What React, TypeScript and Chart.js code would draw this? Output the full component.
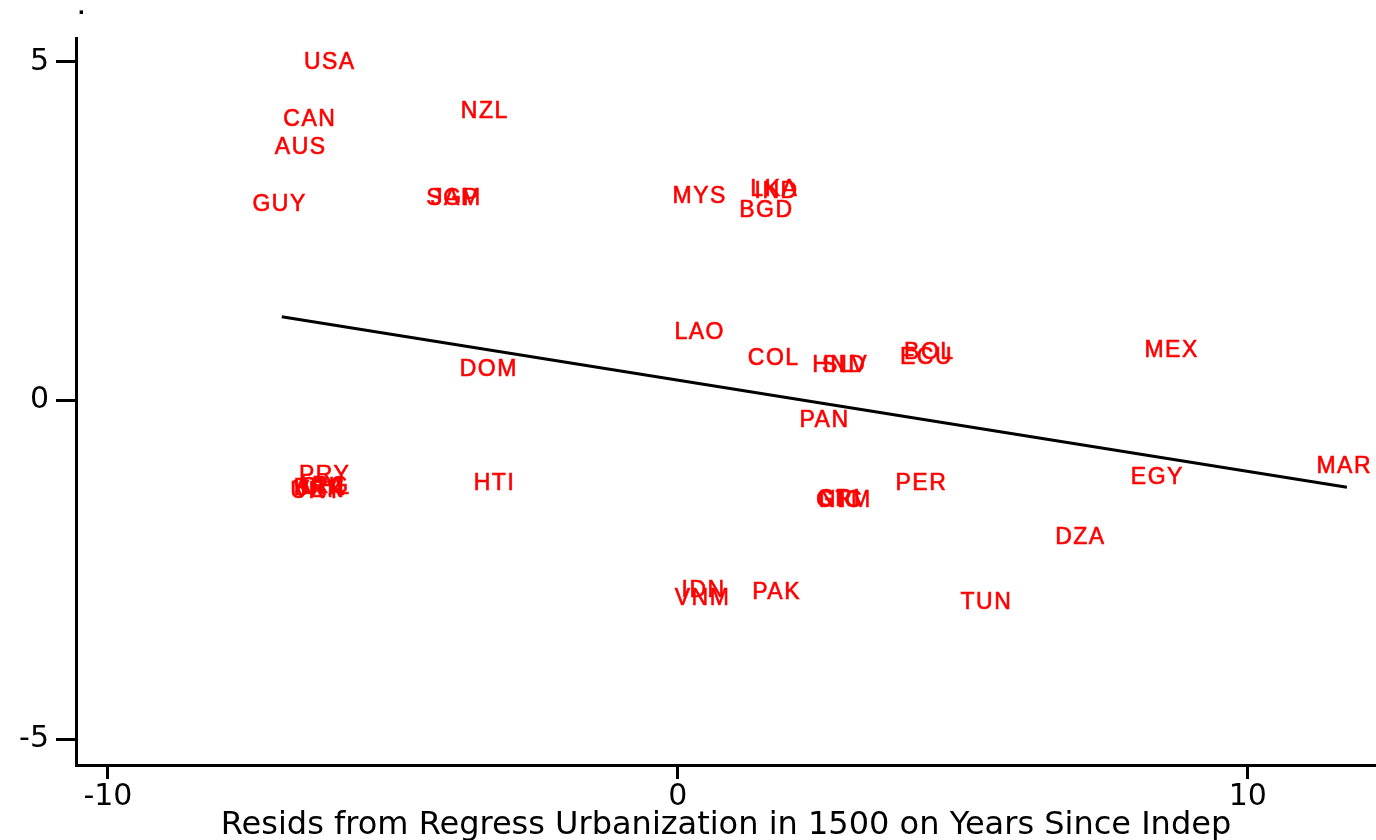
import { useEffect, useRef } from "react";
import { Chart, registerables } from "chart.js";

Chart.register(...registerables);

const countries = [
  "USA", "CAN", "AUS", "GUY", "NZL", "SGP", "JAM", "MYS", "LKA", "IND", "BGD",
  "LAO", "COL", "HND", "SLV", "BOL", "ECU", "MEX", "DOM", "PAN", "MAR", "EGY",
  "PER", "HTI", "PRY", "ARG", "BRA", "CHL", "URY", "VEN", "NIC", "GTM", "CRI",
  "DZA", "IDN", "VNM", "PAK", "TUN",
];
const xValues = [
  -6.12, -6.47, -6.63, -7.0, -3.4, -3.96, -3.9, 0.37, 1.68, 1.72, 1.54,
  0.37, 1.67, 2.82, 2.92, 4.4, 4.35, 8.65, -3.33, 2.56, 11.68, 8.4,
  4.26, -3.23, -6.21, -6.25, -6.3, -6.2, -6.35, -6.3, 2.85, 2.9, 2.82,
  7.05, 0.44, 0.42, 1.72, 5.4,
];
const yValues = [
  5.0, 4.16, 3.74, 2.91, 4.28, 2.99, 2.99, 3.03, 3.13, 3.1, 2.82,
  1.01, 0.63, 0.53, 0.53, 0.72, 0.65, 0.75, 0.47, -0.28, -0.96, -1.12,
  -1.22, -1.21, -1.1, -1.25, -1.29, -1.27, -1.33, -1.31, -1.46, -1.47, -1.45,
  -2.01, -2.79, -2.91, -2.82, -2.97,
];
const fitX = [-6.95, 11.74];
const fitY = [1.235, -1.28];
const xTicks = [-10, 0, 10];
const yTicks = [-5, 0, 5];
const xTitle = "Resids from Regress Urbanization in 1500 on Years Since Indep";
const cornerNote = ".";

export default function App() {
  const canvasRef = useRef<HTMLCanvasElement | null>(null);

  useEffect(() => {
    document.body.style.margin = "0";
    const canvas = canvasRef.current;
    if (!canvas) return;

    const labelPlugin = {
      id: "pointLabels",
      afterDatasetsDraw(chart: any) {
        const ctx = chart.ctx;
        const meta = chart.getDatasetMeta(0);
        ctx.save();
        ctx.font = '23px "Liberation Sans", Arial, sans-serif';
        (ctx as any).letterSpacing = "1.5px";
        ctx.fillStyle = "#ff0000";
        ctx.strokeStyle = "#ff0000";
        ctx.lineWidth = 0.6;
        ctx.textAlign = "center";
        ctx.textBaseline = "middle";
        meta.data.forEach((el: any, i: number) => {
          ctx.fillText(countries[i], el.x + 0.75, el.y + 1);
          ctx.strokeText(countries[i], el.x + 0.75, el.y + 1);
        });
        ctx.restore();
        ctx.save();
        ctx.fillStyle = "#000";
        ctx.font = 'bold 24px "Liberation Sans", Arial, sans-serif';
        ctx.textAlign = "left";
        ctx.textBaseline = "alphabetic";
        ctx.fillText(cornerNote, chart.chartArea.left + 2, 14);
        ctx.restore();
      },
    };

    const chart = new Chart(canvas, {
      type: "scatter",
      data: {
        datasets: [
          {
            label: "countries",
            data: xValues.map((x, i) => ({ x, y: yValues[i] })),
            pointRadius: 0,
            pointHoverRadius: 0,
            backgroundColor: "#ff0000",
          },
          {
            type: "line",
            label: "fit",
            data: fitX.map((x, i) => ({ x, y: fitY[i] })),
            borderColor: "#000",
            borderWidth: 3,
            pointRadius: 0,
            fill: false,
          } as any,
        ],
      },
      options: {
        responsive: false,
        devicePixelRatio: 1,
        animation: false,
        layout: { padding: { top: 38, right: 0, left: 0, bottom: 0 } },
        plugins: {
          legend: { display: false },
          tooltip: { enabled: false },
          title: { display: false },
        },
        scales: {
          x: {
            type: "linear",
            min: -10.56,
            max: 12.25,
            afterBuildTicks: (scale: any) => {
              scale.ticks = xTicks.map((v) => ({ value: v }));
            },
            afterFit: (scale: any) => {
              scale.height = 75;
            },
            border: { display: true, color: "#000", width: 3 },
            grid: {
              display: true,
              drawOnChartArea: false,
              drawTicks: true,
              tickLength: 14,
              color: "#000",
              lineWidth: 3,
            },
            ticks: {
              color: "#000",
              padding: 0,
              maxRotation: 0,
              font: { family: '"DejaVu Sans", sans-serif', size: 30 },
            },
            title: {
              display: true,
              text: xTitle,
              color: "#000",
              padding: { top: 0, bottom: 0 },
              font: { family: '"DejaVu Sans", sans-serif', size: 32, lineHeight: 0.9 },
            },
          },
          y: {
            type: "linear",
            min: -5.38,
            max: 5.35,
            afterBuildTicks: (scale: any) => {
              scale.ticks = yTicks.map((v) => ({ value: v }));
            },
            afterFit: (scale: any) => {
              scale.width = 76;
            },
            border: { display: true, color: "#000", width: 3 },
            grid: {
              display: true,
              drawOnChartArea: false,
              drawTicks: true,
              tickLength: 20,
              color: "#000",
              lineWidth: 3,
            },
            ticks: {
              color: "#000",
              padding: 7,
              font: { family: '"DejaVu Sans", sans-serif', size: 30 },
            },
          },
        },
      },
      plugins: [labelPlugin],
    });

    return () => chart.destroy();
  }, []);

  return (
    <div style={{ width: 1376, height: 840, position: "relative" }}>
      <canvas ref={canvasRef} width={1376} height={840} />
    </div>
  );
}
